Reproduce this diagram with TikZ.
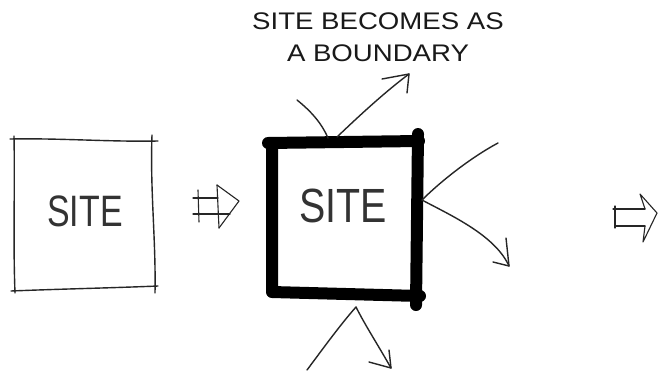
\documentclass[tikz,border=0pt]{standalone}
\usepackage{fontspec}
\setmainfont{Liberation Sans}
\begin{document}
\begin{tikzpicture}[x=1pt,y=-1pt,
  pen/.style={line width=1.4pt,line cap=round,line join=round,black!85},
  thinpen/.style={line width=1.1pt,line cap=round,line join=round,black!85},
  boldpen/.style={line width=12pt,line cap=round,line join=round,black},
  sitetext/.style={font=\fontsize{44}{44}\selectfont,xscale=0.77,text=black!80,inner sep=0pt},
  titletext/.style={font=\fontsize{24}{32}\selectfont,xscale=1.15,align=center,text=black!90,inner sep=0pt}]
\useasboundingbox (0,0) rectangle (658,378);
\fill[white] (0,0) rectangle (658,378);

% title
\node[titletext] (title) at (378,37) {SITE BECOMES AS\\A BOUNDARY};

% left site square (hand drawn)
\draw[pen] (10,139) .. controls (60,138) and (110,142) .. (158,141);
\draw[pen] (152,135) .. controls (150,190) and (156,240) .. (155,293);
\draw[pen] (158,286) .. controls (110,288) and (60,289) .. (11,291);
\draw[pen] (14,136) .. controls (15,190) and (13,240) .. (15,293);
\node[sitetext] (site1) at (85,211) {SITE};

% first hollow arrow
\draw[thinpen] (193,198) -- (218,198);
\draw[thinpen] (193,214) -- (230,214);
\draw[thinpen] (198,190) -- (199,222);
\draw[thinpen] (217,185) -- (219,228);
\draw[thinpen] (217,185) -- (239,201) -- (219,228);

% thick boundary square
\coordinate (b1) at (268,143);
\coordinate (b2) at (419,141);
\draw[boldpen] (b1) -- (b2);
\draw[boldpen] (418,134) -- (416,305);
\draw[boldpen] (272,148) -- (272,292) -- (420,296);
\node[sitetext,font=\fontsize{48}{48}\selectfont,xscale=0.82/0.77] (site2) at (343,206) {SITE};

% top: incoming and outgoing
\coordinate (tin) at (297,100);
\coordinate (tpt) at (328,138);
\coordinate (tout) at (409,74);
\draw[pen] (tin) .. controls (312,112) and (322,124) .. (tpt);
\draw[pen] (337,137) .. controls (360,115) and (385,92) .. (tout);
\draw[pen] (382,79) -- (tout) -- (407,93);

% right: incoming and outgoing
\coordinate (rin) at (498,143);
\coordinate (rpt) at (422,200);
\coordinate (rout) at (509,266);
\draw[pen] (rin) .. controls (470,158) and (440,182) .. (rpt);
\draw[pen] (rpt) .. controls (450,215) and (495,235) .. (rout);
\draw[pen] (493,262) -- (rout) -- (506,238);

% bottom: incoming and outgoing
\coordinate (bin) at (307,370);
\coordinate (bpt) at (356,307);
\coordinate (bout) at (391,368);
\draw[pen] (bin) .. controls (322,350) and (340,325) .. (bpt);
\draw[pen] (bpt) .. controls (365,325) and (378,345) .. (bout);
\draw[pen] (369,362) -- (bout) -- (389,350);

% second hollow arrow
\draw[thinpen] (613,209) -- (645,209);
\draw[thinpen] (615,226) -- (645,226);
\draw[thinpen] (615,206) -- (615,228);
\draw[thinpen] (645,209) -- (640,194) -- (657,213) -- (643,242) -- (645,226);
\end{tikzpicture}
\end{document}
